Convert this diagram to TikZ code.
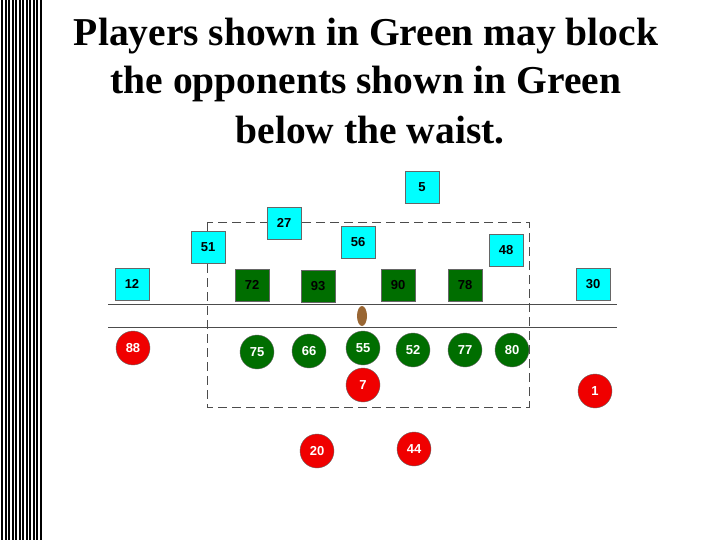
\documentclass[tikz,border=0pt]{standalone}
\usepackage{fontspec}
\setmainfont{Liberation Serif}
\newfontfamily\arialf{Liberation Sans}
\definecolor{cyn}{RGB}{0,255,255}
\definecolor{grn}{RGB}{0,110,0}
\definecolor{rdd}{RGB}{240,0,0}
\begin{document}
\begin{tikzpicture}[x=1pt,y=-1pt,
  sq/.style={draw=black!60,minimum width=34pt,minimum height=32pt,inner sep=0pt,font=\arialf\bfseries\fontsize{13}{13}\selectfont},
  cy/.style={sq,fill=cyn},
  gr/.style={sq,fill=grn},
  pl/.style={circle,draw=black!60,minimum size=34pt,inner sep=0pt,text=white,font=\arialf\bfseries\fontsize{13}{13}\selectfont},
  rd/.style={pl,fill=rdd},
  gc/.style={pl,fill=grn},
  ttl/.style={font=\bfseries\fontsize{39.5}{40}\selectfont}]
\useasboundingbox (0,0) rectangle (720,540);
\fill[white] (0,0) rectangle (720,540);
\foreach \i in {0,...,11} \fill[black] (1+\i*3.5,0) rectangle (3+\i*3.5,540);
\node[ttl] (t1) at (366,36) {Players shown in Green may block};
\node[ttl] (t2) at (366,84) {the opponents shown in Green};
\node[ttl] (t3) at (370,130) {below the waist.};
\draw[black!70,dashed,dash pattern=on 9pt off 5pt] (207,222) rectangle (529,407);
\draw[black!70] (108,304) -- (617,304);
\draw[black!70] (108,327) -- (617,327);
\node[cy] (p5) at (422,187) {5};
\node[cy] (p27) at (284,223) {27};
\node[cy] (p51) at (208,247) {51};
\node[cy] (p56) at (358,242) {56};
\node[cy] (p48) at (506,250) {48};
\node[cy] (p12) at (132,284) {12};
\node[cy] (p30) at (593,284) {30};
\node[gr] (p72) at (252,285) {72};
\node[gr] (p93) at (318,286) {93};
\node[gr] (p90) at (398,285) {90};
\node[gr] (p78) at (465,285) {78};
\fill[brown!80!black] (362,316) ellipse (5 and 10);
\node[rd] (c88) at (133,348) {88};
\node[gc] (c75) at (257,352) {75};
\node[gc] (c66) at (309,351) {66};
\node[gc] (c55) at (363,348) {55};
\node[gc] (c52) at (413,350) {52};
\node[gc] (c77) at (465,350) {77};
\node[gc] (c80) at (512,350) {80};
\node[rd] (c7) at (363,385) {7};
\node[rd] (c1) at (595,391) {1};
\node[rd] (c20) at (317,451) {20};
\node[rd] (c44) at (414,449) {44};
\end{tikzpicture}
\end{document}
